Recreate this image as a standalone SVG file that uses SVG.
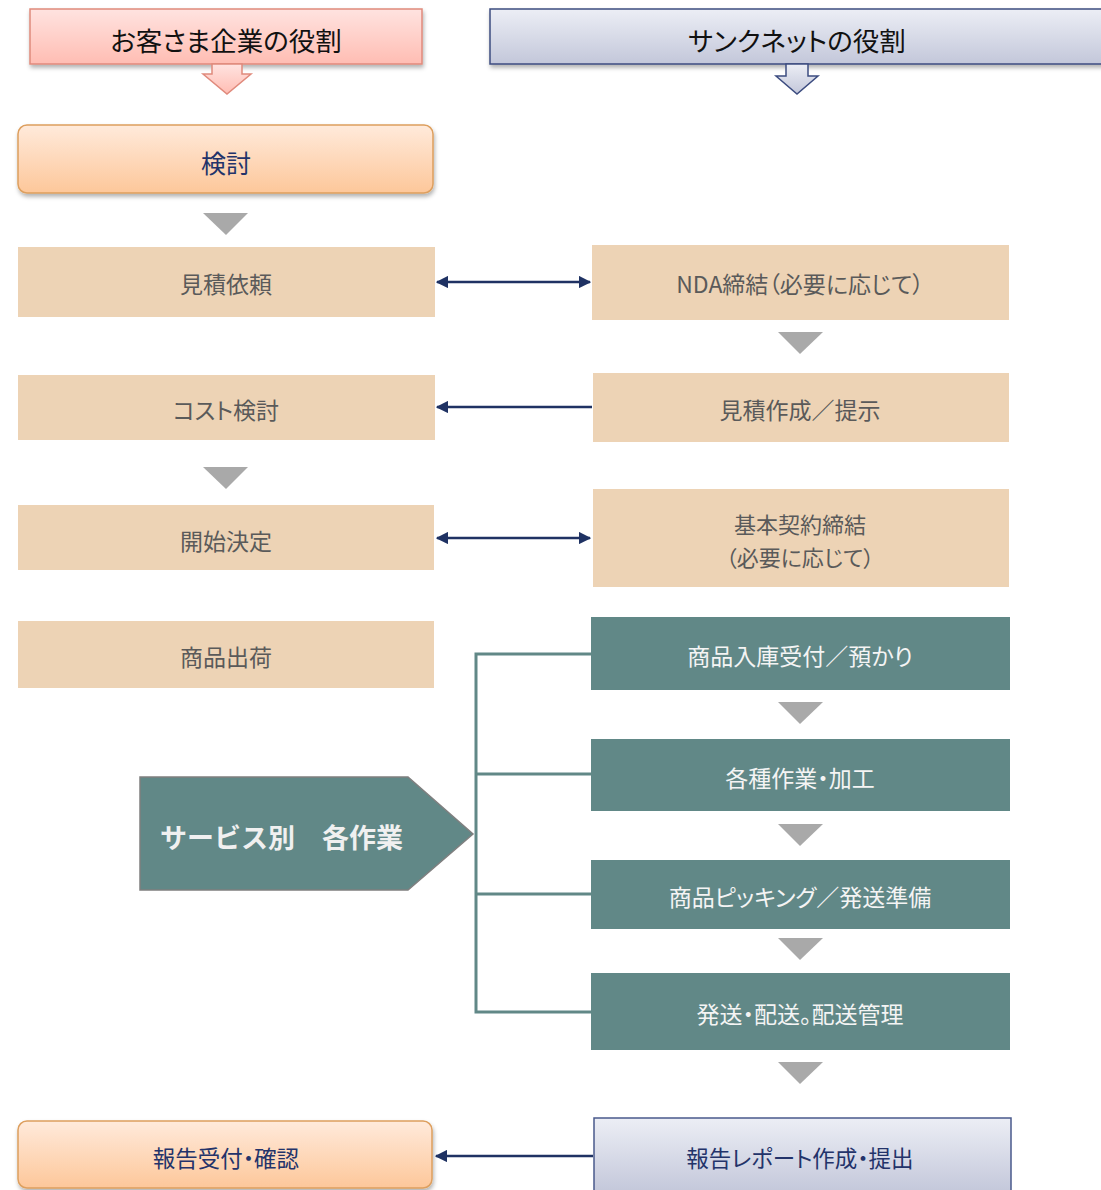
<svg xmlns="http://www.w3.org/2000/svg" width="1101" height="1190" viewBox="0 0 1101 1190">
<defs>
<linearGradient id="gPink" x1="0" y1="0" x2="0" y2="1"><stop offset="0" stop-color="#ffe3e0"/><stop offset="1" stop-color="#ffbdb3"/></linearGradient>
<linearGradient id="gBlue" x1="0" y1="0" x2="0" y2="1"><stop offset="0" stop-color="#eceef5"/><stop offset="1" stop-color="#c3c7da"/></linearGradient>
<linearGradient id="gOrange" x1="0" y1="0" x2="0" y2="1"><stop offset="0" stop-color="#ffeadb"/><stop offset="1" stop-color="#fdc79a"/></linearGradient>
<filter id="sh" x="-5%" y="-10%" width="110%" height="130%"><feDropShadow dx="1" dy="3" stdDeviation="2" flood-color="#000" flood-opacity="0.3"/></filter>
<marker id="ah" viewBox="0 0 10 10" refX="9" refY="5" markerWidth="5" markerHeight="5" orient="auto-start-reverse" markerUnits="strokeWidth"><path d="M0,0 L10,5 L0,10 z" fill="#1f3263"/></marker>
<style>
.t{font-family:"Noto Sans CJK JP","Noto Sans",sans-serif;text-anchor:middle;dominant-baseline:central;font-feature-settings:"palt"}
.beige{fill:#edd3b5}
.teal{fill:#618887}
.gt{fill:#5a5a5a;font-size:23px}
.wt{fill:#f4f4f4;font-size:23px}
.nt{fill:#23336a;font-size:22.5px}
.tri{fill:#a9a9a9}
.con{stroke:#1f3263;stroke-width:2.5;fill:none}
.br{stroke:#618887;stroke-width:3;fill:none}
</style>
</defs>

<g id="header-customer">
<rect x="30" y="9" width="392" height="55" fill="url(#gPink)" stroke="#e08a7c" stroke-width="1.5" filter="url(#sh)"/>
<path d="M212,64 L242,64 L242,74 L251,74 L227,94 L203,74 L212,74 Z" fill="url(#gPink)" stroke="#e08a7c" stroke-width="1.5"/>
<text class="t" x="226" y="39" font-size="26.5" fill="#111">お客さま企業の役割</text>
</g>
<g id="header-sunk">
<rect x="490" y="9" width="620" height="55" fill="url(#gBlue)" stroke="#3c4c80" stroke-width="1.5" filter="url(#sh)"/>
<path d="M786,64 L808,64 L808,76 L818,76 L797,94 L776,76 L786,76 Z" fill="url(#gBlue)" stroke="#3c4c80" stroke-width="1.5"/>
<text class="t" x="797" y="39" font-size="26.5" fill="#111">サンクネットの役割</text>
</g>

<g id="kentou">
<rect x="18" y="125" width="415" height="68" rx="9" fill="url(#gOrange)" stroke="#dd9f5e" stroke-width="1.5" filter="url(#sh)"/>
<text class="t nt" x="226" y="162" style="font-size:25px">検討</text>
</g>
<polygon class="tri" points="203,213 248,213 226,235"/>

<g id="mitsumori-irai"><rect class="beige" x="18" y="247" width="417" height="70"/><text class="t gt" x="226" y="283">見積依頼</text></g>
<g id="nda"><rect class="beige" x="592" y="245" width="417" height="75"/><text class="t gt" x="800" y="283">NDA締結（必要に応じて）</text></g>
<polygon class="tri" points="778,332 823,332 800,354"/>
<g id="cost"><rect class="beige" x="18" y="375" width="417" height="65"/><text class="t gt" x="226" y="409">コスト検討</text></g>
<g id="mitsumori-sakusei"><rect class="beige" x="593" y="373" width="416" height="69"/><text class="t gt" x="800" y="409">見積作成／提示</text></g>
<polygon class="tri" points="203,467 248,467 226,489"/>
<g id="kaishi"><rect class="beige" x="18" y="505" width="416" height="65"/><text class="t gt" x="226" y="540">開始決定</text></g>
<g id="keiyaku"><rect class="beige" x="593" y="489" width="416" height="98"/><text class="t gt" x="800" y="523" style="font-size:22px">基本契約締結</text><text class="t gt" x="800" y="556" style="font-size:22px">（必要に応じて）</text></g>
<g id="shukka"><rect class="beige" x="18" y="621" width="416" height="67"/><text class="t gt" x="226" y="656">商品出荷</text></g>

<g id="nyuko"><rect class="teal" x="591" y="617" width="419" height="73"/><text class="t wt" x="800" y="655">商品入庫受付／預かり</text></g>
<polygon class="tri" points="778,702 823,702 800,724"/>
<g id="sagyou"><rect class="teal" x="591" y="739" width="419" height="72"/><text class="t wt" x="800" y="777">各種作業・加工</text></g>
<polygon class="tri" points="778,824 823,824 800,846"/>
<g id="picking"><rect class="teal" x="591" y="860" width="419" height="69"/><text class="t wt" x="800" y="896">商品ピッキング／発送準備</text></g>
<polygon class="tri" points="778,938 823,938 800,960"/>
<g id="haisou"><rect class="teal" x="591" y="973" width="419" height="77"/><text class="t wt" x="800" y="1013">発送・配送。配送管理</text></g>
<polygon class="tri" points="778,1062 823,1062 800,1084"/>

<g id="service">
<polygon points="140,777 408,777 473,834 408,890 140,890" fill="#618887" stroke="#7f7f7f" stroke-width="1.5"/>
<text x="160" y="836" font-family="'Noto Sans CJK JP','Noto Sans',sans-serif" font-size="27" font-weight="bold" fill="#f0f0f0" dominant-baseline="central">サービス別　各作業</text>
</g>

<g id="houkoku-uketsuke">
<rect x="18" y="1121" width="414" height="67" rx="9" fill="url(#gOrange)" stroke="#dd9f5e" stroke-width="1.5" filter="url(#sh)"/>
<text class="t nt" x="226" y="1157">報告受付・確認</text>
</g>
<g id="houkoku-report">
<rect x="594" y="1118" width="417" height="75" fill="url(#gBlue)" stroke="#4a5a8c" stroke-width="1.5"/>
<text class="t nt" x="800" y="1157">報告レポート作成・提出</text>
</g>

<g id="connectors">
<line class="con" x1="437" y1="282" x2="590" y2="282" marker-start="url(#ah)" marker-end="url(#ah)"/>
<line class="con" x1="592" y1="407" x2="437" y2="407" marker-end="url(#ah)"/>
<line class="con" x1="437" y1="538" x2="590" y2="538" marker-start="url(#ah)" marker-end="url(#ah)"/>
<line class="con" x1="593" y1="1156" x2="436" y2="1156" marker-end="url(#ah)"/>
<path class="br" d="M591,654 H476 V1012 H591 M476,774 H591 M476,894 H591"/>
</g>
</svg>
